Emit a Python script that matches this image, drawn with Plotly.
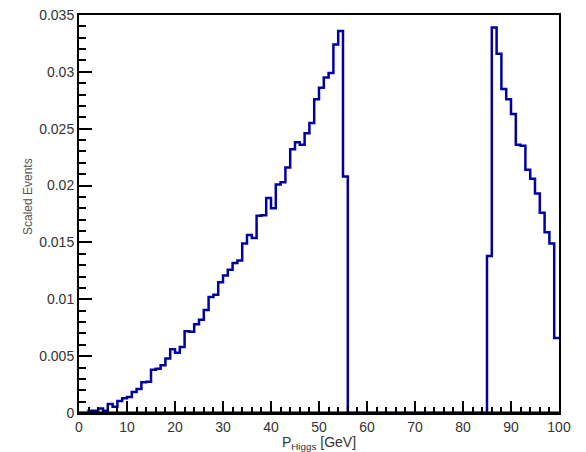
import numpy as np
import plotly.graph_objects as go

# Bin contents (x 1e-3), bins of width 1 GeV from 0 to 100
bin_width = 1.0
x_min = 0.0
values_milli = [
    0, 0, 0.2, 0.2, 0.4, 0.2, 0.8, 0.55, 1.05, 1.3,          # 0-9
    1.4, 1.85, 2.1, 2.7, 2.75, 3.8, 3.9, 4.2, 4.8, 5.6,      # 10-19
    5.3, 5.8, 7.2, 7.15, 7.8, 8.2, 9.05, 10.2, 10.4, 11.5,   # 20-29
    12.1, 12.6, 13.2, 13.4, 14.9, 15.65, 15.4, 17.35, 17.4, 18.9,  # 30-39
    18.0, 20.1, 20.3, 21.6, 23.2, 23.8, 23.6, 24.6, 25.5, 27.6,    # 40-49
    28.6, 29.5, 29.9, 32.4, 33.6, 20.8, 0, 0, 0, 0,                # 50-59
    0, 0, 0, 0, 0, 0, 0, 0, 0, 0,                                  # 60-69
    0, 0, 0, 0, 0, 0, 0, 0, 0, 0,                                  # 70-79
    0, 0, 0, 0, 0, 13.8, 33.9, 31.6, 28.5, 27.6,                   # 80-89
    26.3, 23.6, 23.5, 21.4, 20.6, 19.3, 17.6, 15.9, 14.9, 6.6,     # 90-99
]
values = [v * 1e-3 for v in values_milli]

y_tickvals = [0, 0.005, 0.01, 0.015, 0.02, 0.025, 0.03, 0.035]
y_ticktext = ["0", "0.005", "0.01", "0.015", "0.02", "0.025", "0.03", "0.035"]
x_tickvals = [0, 10, 20, 30, 40, 50, 60, 70, 80, 90, 100]

edges = x_min + bin_width * np.arange(len(values) + 1)
y_step = values + [values[-1]]

fig = go.Figure()
fig.add_trace(go.Scatter(
    x=edges, y=y_step, mode="lines", line_shape="hv",
    line=dict(color="#0000a0", width=2.5), showlegend=False,
    hoverinfo="skip",
))

# frame bottom edge drawn above the histogram so empty bins sit under the axis
fig.add_shape(type="line", xref="paper", x0=0, x1=1, yref="y", y0=0, y1=0,
              line=dict(color="black", width=3), layer="above")

font_family = "Liberation Sans, Arial, sans-serif"

fig.add_annotation(text="Scaled Events", xref="paper", yref="paper",
                   x=-0.106, y=0.543, xanchor="center", yanchor="middle",
                   textangle=-90, showarrow=False,
                   font=dict(family=font_family, size=12, color="#555555"))

fig.update_layout(
    width=586, height=452,
    margin=dict(l=79, r=27, t=15, b=39),
    paper_bgcolor="white", plot_bgcolor="white",
    font=dict(family=font_family, size=13, color="#333333"),
)
fig.update_xaxes(
    range=[0, 100], tickvals=x_tickvals, ticktext=[str(v) for v in x_tickvals],
    ticks="inside", ticklen=12, tickwidth=2, tickcolor="black",
    minor=dict(ticks="inside", ticklen=6, tickwidth=2, tickcolor="black", dtick=2, showgrid=False),
    showline=True, linecolor="black", linewidth=2, mirror=True,
    showgrid=False, zeroline=False, automargin=False, layer="above traces",
    tickfont=dict(size=14, color="#333333"),
    title=dict(text="P<sub>Higgs</sub> [GeV]", font=dict(size=14, color="#333333"), standoff=0),
)
fig.update_yaxes(
    range=[0, 0.035], tickvals=y_tickvals, ticktext=y_ticktext,
    ticks="inside", ticklen=13, tickwidth=2, tickcolor="black",
    minor=dict(ticks="inside", ticklen=7, tickwidth=2, tickcolor="black", dtick=0.001, showgrid=False),
    showline=True, linecolor="black", linewidth=2, mirror=True,
    showgrid=False, zeroline=False, automargin=False, layer="above traces",
    tickfont=dict(size=14, color="#333333"),
)

fig.write_html("out.html")
